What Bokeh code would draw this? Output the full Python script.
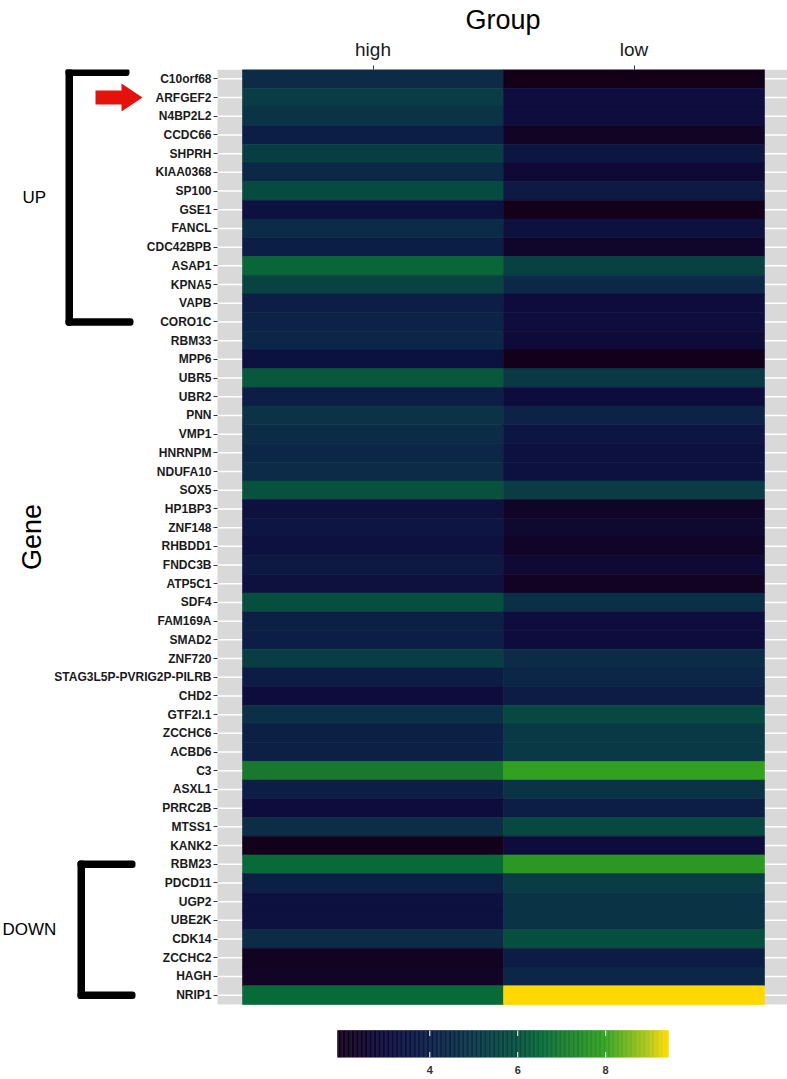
import numpy as np
from bokeh.plotting import figure
from bokeh.models import (Range1d, FixedTicker, LinearColorMapper, BoxAnnotation,
                          PolyAnnotation, Label, ColumnDataSource, LinearAxis)
from bokeh.embed import file_html
from bokeh.resources import INLINE

# ---------------- data ----------------
genes = ["C10orf68", "ARFGEF2", "N4BP2L2", "CCDC66", "SHPRH", "KIAA0368", "SP100", "GSE1",
         "FANCL", "CDC42BPB", "ASAP1", "KPNA5", "VAPB", "CORO1C", "RBM33", "MPP6", "UBR5",
         "UBR2", "PNN", "VMP1", "HNRNPM", "NDUFA10", "SOX5", "HP1BP3", "ZNF148", "RHBDD1",
         "FNDC3B", "ATP5C1", "SDF4", "FAM169A", "SMAD2", "ZNF720", "STAG3L5P-PVRIG2P-PILRB",
         "CHD2", "GTF2I.1", "ZCCHC6", "ACBD6", "C3", "ASXL1", "PRRC2B", "MTSS1", "KANK2",
         "RBM23", "PDCD11", "UGP2", "UBE2K", "CDK14", "ZCCHC2", "HAGH", "NRIP1"]
groups = ["high", "low"]
high = [4.6, 5.3, 5.0, 4.0, 5.4, 4.5, 5.9, 3.3, 4.6, 4.0,
        6.5, 5.6, 4.0, 4.2, 4.4, 3.3, 6.2, 4.0, 5.0, 4.6,
        4.4, 4.6, 6.1, 3.2, 3.6, 3.3, 3.7, 3.2, 6.0, 4.1,
        4.0, 5.4, 3.9, 3.0, 4.8, 4.1, 4.1, 7.0, 4.0, 3.0,
        4.7, 2.0, 6.6, 4.1, 3.3, 3.3, 4.6, 2.2, 2.3, 6.6]
low = [1.9, 3.1, 3.1, 2.3, 3.5, 2.8, 3.8, 2.0, 3.2, 2.5,
       5.5, 4.5, 3.0, 3.1, 2.9, 2.0, 5.2, 3.0, 4.2, 3.6,
       3.3, 3.3, 5.3, 2.4, 2.7, 2.4, 2.8, 2.2, 4.8, 3.1,
       3.0, 4.6, 4.4, 3.9, 5.8, 5.2, 5.2, 8.0, 5.0, 4.0,
       5.8, 3.0, 7.8, 5.3, 5.0, 5.0, 6.0, 3.9, 4.4, 9.43]
colorbar_ticks = [4, 6, 8]
up_span = ("C10orf68", "CORO1C")
down_span = ("RBM23", "NRIP1")
arrow_gene = "ARFGEF2"

# ---------------- colour scale ----------------
stop_vals = [1.9, 3.0, 4.0, 5.0, 6.0, 6.6, 7.0, 8.0, 9.0, 9.43]
stop_cols = ["#130018", "#0e0c3c", "#0c1e46", "#0a3446", "#064e3e", "#086a38",
             "#187830", "#30a020", "#b0c818", "#ffd800"]
vmin = min(min(high), min(low))
vmax = max(max(high), max(low))
rgb = np.array([[int(c[i:i + 2], 16) for i in (1, 3, 5)] for c in stop_cols], float)
NPAL = 256
pal_vals = np.linspace(vmin, vmax, NPAL)
palette = []
for v in pal_vals:
    r, g, b = (np.interp(v, stop_vals, rgb[:, k]) for k in range(3))
    palette.append("#%02x%02x%02x" % (int(round(r)), int(round(g)), int(round(b))))
mapper = LinearColorMapper(palette=palette, low=vmin, high=vmax)

# ---------------- layout constants (pixels) ----------------
FIG_W, FIG_H = 787, 1079
TOP, BOTTOM = 69, 22            # borders above / below the frame
TILE_X0, COL_W = 242, 261       # left edge of first tile column, column width
ROW_H = 18.7
PANEL_X0 = 217                  # left edge of the grey panel
CB_X0, CB_X1 = 337, 668         # colour bar extent
CB_Y0 = 1030                    # colour bar top (bottom = frame bottom)

n = len(genes)
frame_h = FIG_H - TOP - BOTTOM
x_start = -TILE_X0 / COL_W
x_end = (FIG_W - TILE_X0) / COL_W
panel_left = (PANEL_X0 - TILE_X0) / COL_W
y_bottom = frame_h / ROW_H
cb_k = (CB_X1 - CB_X0) / (vmax - vmin)
cb_top = (CB_Y0 - TOP) / ROW_H
cb_bot = y_bottom

# ---------------- figure ----------------
FONT = "Liberation Sans"
p = figure(width=FIG_W, height=FIG_H, x_range=Range1d(x_start, x_end),
           y_range=Range1d(y_bottom, 0), x_axis_location="above",
           output_backend="svg", toolbar_location=None,
           min_border_left=0, min_border_right=0, min_border_top=TOP, min_border_bottom=BOTTOM)
p.extra_x_ranges = {"cbar": Range1d(vmin - CB_X0 / cb_k, vmax + (FIG_W - CB_X1) / cb_k)}
p.background_fill_color = "white"
p.border_fill_color = "white"
p.outline_line_color = None
p.grid.visible = False

# "Group" heading centred over the tile columns
p.title.text = "Group"
p.title.align = "left"
p.title.offset = TILE_X0 + COL_W - 38
p.title.text_font = FONT
p.title.text_font_size = "27px"
p.title.text_font_style = "normal"
p.title.text_color = "black"
p.title.standoff = 2

rows = [i + 0.5 for i in range(n)]
# grey panel + white row lines
p.quad(left=[panel_left], right=[x_end], top=[0], bottom=[n], fill_color="#d9d9d9", line_color=None)
p.segment(x0=[panel_left] * n, x1=[x_end] * n, y0=rows, y1=rows, line_color="white", line_width=1.5)

xs, ys, vs = [], [], []
for i, g in enumerate(genes):
    for j, series in enumerate([high, low]):
        xs.append(j + 0.5)
        ys.append(i + 0.5)
        vs.append(series[i])
src = ColumnDataSource(dict(x=xs, y=ys, v=vs))
p.rect(x="x", y="y", width=1, height=1, source=src,
       fill_color={"field": "v", "transform": mapper},
       line_color={"field": "v", "transform": mapper}, line_width=0.6)

# ---------------- axes ----------------
p.xaxis.ticker = FixedTicker(ticks=[j + 0.5 for j in range(len(groups))])
p.xaxis.major_label_overrides = {j + 0.5: g for j, g in enumerate(groups)}
p.xaxis.bounds = (0, len(groups))
p.yaxis.ticker = FixedTicker(ticks=rows)
p.yaxis.major_label_overrides = {i + 0.5: g for i, g in enumerate(genes)}
p.yaxis.bounds = (0, n)
p.yaxis.fixed_location = panel_left

for ax in (p.xaxis[0], p.yaxis[0]):
    ax.axis_line_color = None
    ax.major_tick_line_color = "#333333"
    ax.major_tick_in = 0
    ax.major_tick_out = 4
    ax.minor_tick_line_color = None
    ax.axis_label_text_font = FONT
    ax.axis_label_text_font_style = "normal"
    ax.axis_label_text_color = "black"
    ax.major_label_text_font = FONT
    ax.major_label_text_color = "#1a1a1a"

p.xaxis.major_label_text_font_size = "19px"
p.xaxis.major_label_standoff = 6

p.yaxis.axis_label = "Gene"
p.yaxis.axis_label_text_font_size = "27px"
p.yaxis.axis_label_standoff = 4
p.yaxis.major_label_text_font_size = "12px"
p.yaxis.major_label_text_font_style = "bold"
p.yaxis.major_label_standoff = 2

# ---------------- brackets, arrow, labels ----------------
def bracket(g_top, g_bot, x_bar, x_arm_top, x_arm_bot, top_off, th_px=7.5):
    t = genes.index(g_top) + top_off
    b = genes.index(g_bot) + 0.5
    half = th_px / 2 / ROW_H
    boxes = [
        (x_bar, x_bar + th_px, t - half, b + half),
        (x_bar, x_arm_top, t - half, t + half),
        (x_bar, x_arm_bot, b - half, b + half),
    ]
    for l, r, tp, bt in boxes:
        p.add_layout(BoxAnnotation(left=l, right=r, top=tp, bottom=bt,
                                   left_units="screen", right_units="screen",
                                   top_units="data", bottom_units="data",
                                   fill_color="black", fill_alpha=1, line_color=None,
                                   border_radius=3))
    return (t + b) / 2

mid_up = bracket(up_span[0], up_span[1], 65, 129, 133, 0.15)
mid_down = bracket(down_span[0], down_span[1], 77, 135, 135, 0.5)

c = genes.index(arrow_gene) + 0.5
sh, hh = 7 / ROW_H, 14 / ROW_H
p.add_layout(PolyAnnotation(xs=[95, 121, 121, 142, 121, 121, 95],
                            ys=[c - sh, c - sh, c - hh, c, c + hh, c + sh, c + sh],
                            xs_units="screen", ys_units="data",
                            fill_color="#e3120b", fill_alpha=1, line_color=None))

for txt, xpos, ypos in (("UP", 22, mid_up), ("DOWN", 2, mid_down)):
    p.add_layout(Label(x=xpos, y=ypos, x_units="screen", y_units="data", text=txt,
                       text_font=FONT, text_font_size="17px", text_color="black",
                       text_align="left", text_baseline="middle"))

# ---------------- colour bar ----------------
edges = np.linspace(vmin, vmax, NPAL + 1)
p.quad(left=edges[:-1], right=edges[1:], top=[cb_top] * NPAL, bottom=[cb_bot] * NPAL,
       fill_color=palette, line_color=palette, line_width=0.5, x_range_name="cbar")
tick_len = 5.5 / ROW_H
k3 = len(colorbar_ticks)
p.segment(x0=colorbar_ticks, x1=colorbar_ticks, y0=[cb_bot] * k3, y1=[cb_bot - tick_len] * k3,
          line_color="white", line_width=1, x_range_name="cbar")
p.segment(x0=colorbar_ticks, x1=colorbar_ticks, y0=[cb_top] * k3, y1=[cb_top + tick_len] * k3,
          line_color="white", line_width=1, x_range_name="cbar")

cax = LinearAxis(x_range_name="cbar", ticker=FixedTicker(ticks=colorbar_ticks))
cax.axis_line_color = None
cax.major_tick_line_color = None
cax.major_tick_in = 0
cax.major_tick_out = 0
cax.minor_tick_line_color = None
cax.major_label_standoff = 8
cax.major_label_text_font = FONT
cax.major_label_text_font_size = "11px"
cax.major_label_text_font_style = "bold"
cax.major_label_text_color = "#333333"
p.add_layout(cax, "below")

open("out.html", "w").write(file_html(p, INLINE))
